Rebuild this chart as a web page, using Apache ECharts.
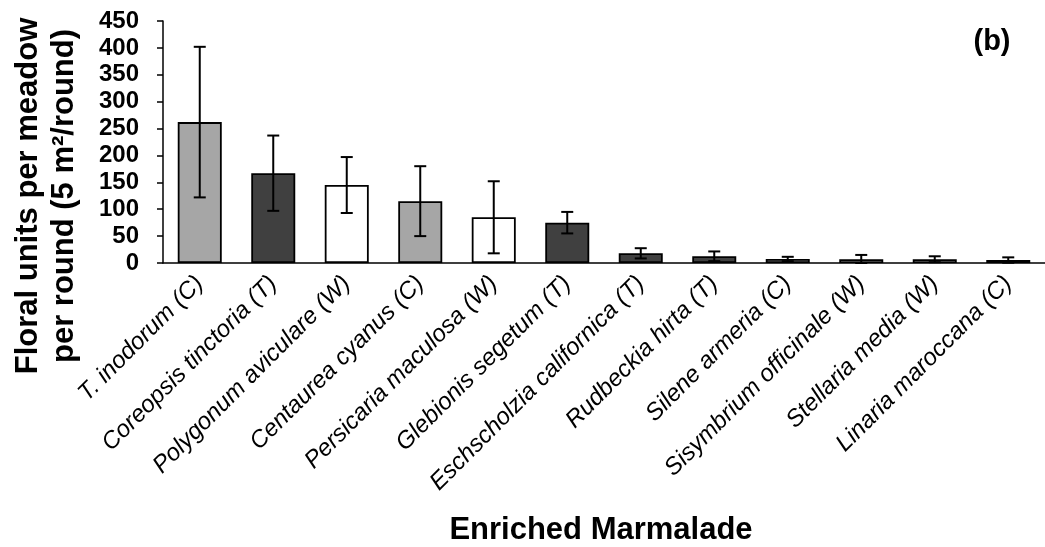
<!DOCTYPE html>
<html>
<head>
<meta charset="utf-8">
<script src="https://cdn.jsdelivr.net/npm/echarts@6/dist/echarts.min.js"></script>
<style>
html,body{margin:0;padding:0;background:#fff;}
#chart{width:1045px;height:547px;}
</style>
</head>
<body>
<div id="chart"></div>
<script>
// Data
const categories = [
  'T. inodorum (C)', 'Coreopsis tinctoria (T)', 'Polygonum aviculare (W)',
  'Centaurea cyanus (C)', 'Persicaria maculosa (W)', 'Glebionis segetum (T)',
  'Eschscholzia californica (T)', 'Rudbeckia hirta (T)', 'Silene armeria (C)',
  'Sisymbrium officinale (W)', 'Stellaria media (W)', 'Linaria maroccana (C)'
];
const groups = ['C', 'T', 'W', 'C', 'W', 'T', 'T', 'T', 'C', 'W', 'W', 'C'];
const means  = [262, 167, 145, 115, 85, 75, 18, 12.5, 7.5, 7, 7, 5.5];
const errors = [140, 70, 52, 65, 67, 20, 9.5, 9, 4, 8, 5.5, 5];
const yTicks = [0, 50, 100, 150, 200, 250, 300, 350, 400, 450];

const groupColors = { C: '#a6a6a6', T: '#404040', W: '#ffffff' };
const FONT = '"Liberation Sans", Arial, sans-serif';

const chart = echarts.init(document.getElementById('chart'), null, { renderer: 'canvas' });

const barData = means.map((v, i) => ({
  value: v,
  itemStyle: { color: groupColors[groups[i]] }
}));
const errData = means.map((v, i) => [i, Math.max(0, v - errors[i]), v + errors[i]]);

const option = {
  backgroundColor: '#ffffff',
  animation: false,
  textStyle: { fontFamily: FONT },
  grid: { left: 163, right: 0, top: 21, bottom: 284, containLabel: false },
  xAxis: {
    type: 'category',
    data: categories,
    axisLine: { lineStyle: { color: '#000', width: 1.5 } },
    axisTick: { alignWithLabel: true, length: 6, lineStyle: { color: '#000', width: 1.5 } },
    axisLabel: {
      interval: 0, rotate: 45, margin: 17,
      fontFamily: FONT, fontStyle: 'italic', fontSize: 24, color: '#000'
    },
    splitLine: { show: false }
  },
  yAxis: {
    type: 'value',
    min: yTicks[0], max: yTicks[yTicks.length - 1], interval: yTicks[1] - yTicks[0],
    axisLine: { show: true, lineStyle: { color: '#000', width: 1.5 } },
    axisTick: { show: true, length: 6, lineStyle: { color: '#000', width: 1.5 } },
    axisLabel: { margin: 24, fontFamily: FONT, fontWeight: 'bold', fontSize: 24, color: '#000' },
    splitLine: { show: false }
  },
  graphic: [
    {
      type: 'text', x: 46, y: 196, rotation: Math.PI / 2,
      style: {
        text: 'Floral units per meadow\nper round (5 m\u00B2/round)',
        fontFamily: FONT, fontWeight: 'bold', fontSize: 31, lineHeight: 36,
        fill: '#000', textAlign: 'center', textVerticalAlign: 'middle'
      }
    },
    {
      type: 'text', x: 601, y: 530,
      style: {
        text: 'Enriched Marmalade',
        fontFamily: FONT, fontWeight: 'bold', fontSize: 31,
        fill: '#000', textAlign: 'center', textVerticalAlign: 'middle'
      }
    },
    {
      type: 'text', x: 992, y: 42,
      style: {
        text: '(b)',
        fontFamily: FONT, fontWeight: 'bold', fontSize: 29,
        fill: '#000', textAlign: 'center', textVerticalAlign: 'middle'
      }
    }
  ],
  series: [
    {
      type: 'bar',
      data: barData,
      barWidth: 44,
      itemStyle: { borderColor: '#000', borderWidth: 1.8 },
      z: 2
    },
    {
      type: 'custom',
      data: errData,
      encode: { x: 0, y: [1, 2] },
      z: 3,
      renderItem: function (params, api) {
        const x = api.value(0);
        const lo = api.coord([x, api.value(1)]);
        const hi = api.coord([x, api.value(2)]);
        const cap = 6;
        const st = { stroke: '#000', lineWidth: 2 };
        return {
          type: 'group',
          children: [
            { type: 'line', shape: { x1: hi[0], y1: hi[1], x2: lo[0], y2: lo[1] }, style: st },
            { type: 'line', shape: { x1: hi[0] - cap, y1: hi[1], x2: hi[0] + cap, y2: hi[1] }, style: st },
            { type: 'line', shape: { x1: lo[0] - cap, y1: lo[1], x2: lo[0] + cap, y2: lo[1] }, style: st }
          ]
        };
      }
    }
  ]
};
chart.setOption(option);
</script>
</body>
</html>
